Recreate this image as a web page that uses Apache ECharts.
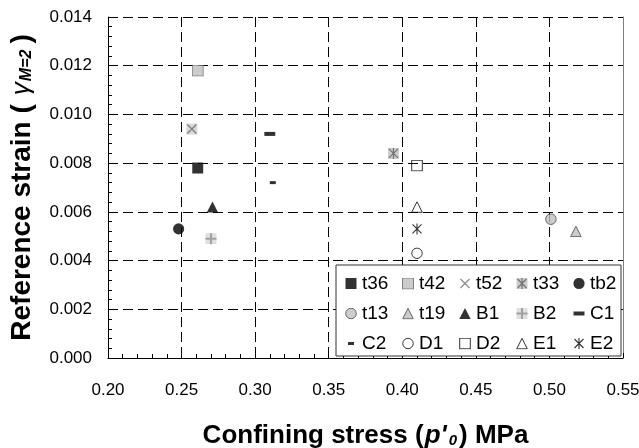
<!DOCTYPE html>
<html>
<head>
<meta charset="utf-8">
<script src="https://cdn.jsdelivr.net/npm/echarts@6/dist/echarts.min.js"></script>
<style>html,body{margin:0;padding:0;background:#fff;}#c{width:639px;height:448px;}</style>
</head>
<body>
<div id="c"></div>
<script>
// ---- data ----
const seriesNames = ['t36','t42','t52','t33','tb2','t13','t19','B1','B2','C1','C2','D1','D2','E1','E2'];
const stressValues = [0.261, 0.261, 0.257, 0.394, 0.248, 0.501, 0.518, 0.271, 0.270, 0.310, 0.312, 0.410, 0.410, 0.410, 0.410];
const strainValues = [0.0078, 0.0118, 0.0094, 0.0084, 0.0053, 0.0057, 0.0052, 0.0062, 0.0049, 0.0092, 0.0072, 0.0043, 0.0079, 0.0062, 0.0053];
const xTickLabels = ['0.20','0.25','0.30','0.35','0.40','0.45','0.50','0.55'];
const yTickLabels = ['0.000','0.002','0.004','0.006','0.008','0.010','0.012','0.014'];

// ---- marker glyphs (12x12 svg) ----
const G = '#c0c0c0';
const svgs = {
  t36: '<rect x="0.5" y="0.5" width="11" height="11" fill="#000"/>',
  t42: '<rect x="0.5" y="0.5" width="11" height="11" fill="'+G+'" stroke="#606060" stroke-width="1"/>',
  t52: '<rect x="0.5" y="0.5" width="11" height="11" fill="#d0d0d0"/><path d="M1.5 1.5L10.5 10.5M10.5 1.5L1.5 10.5" stroke="#606060" stroke-width="1.3" fill="none"/>',
  t52L: '<path d="M1.5 1.5L10.5 10.5M10.5 1.5L1.5 10.5" stroke="#707070" stroke-width="1.3" fill="none"/>',
  t33: '<rect x="0.5" y="0.5" width="11" height="11" fill="'+G+'"/><path d="M1.5 1.5L10.5 10.5M10.5 1.5L1.5 10.5M6 0.5L6 11.5" stroke="#505050" stroke-width="1.2" fill="none"/>',
  tb2: '<circle cx="6" cy="6" r="5.6" fill="#000"/>',
  t13: '<circle cx="6" cy="6" r="5.3" fill="'+G+'" stroke="#404040" stroke-width="1"/>',
  t19: '<polygon points="6,0.8 11.3,11.3 0.7,11.3" fill="'+G+'" stroke="#404040" stroke-width="1"/>',
  B1: '<polygon points="6,0.5 11.7,11.5 0.3,11.5" fill="#000"/>',
  B2: '<rect x="0.5" y="0.5" width="11" height="11" fill="#d8d8d8"/><path d="M6 0.5L6 11.5M0.5 6L11.5 6" stroke="#8a8a8a" stroke-width="2" fill="none"/>',
  C1: '<rect x="0.5" y="4" width="11" height="4" fill="#000"/>',
  C2: '<rect x="3" y="4.5" width="6" height="3" fill="#000"/>',
  D1: '<circle cx="6" cy="6" r="5.2" fill="none" stroke="#000" stroke-width="1"/>',
  D2: '<rect x="0.7" y="0.7" width="10.6" height="10.6" fill="none" stroke="#000" stroke-width="1"/>',
  E1: '<polygon points="6,0.8 11.3,11.3 0.7,11.3" fill="none" stroke="#000" stroke-width="1"/>',
  E2: '<path d="M1.5 1.5L10.5 10.5M10.5 1.5L1.5 10.5M6 0.5L6 11.5" stroke="#000" stroke-width="1.1" fill="none"/>'
};
function img(key){
  const s = '<svg xmlns="http://www.w3.org/2000/svg" width="12" height="12" viewBox="0 0 12 12">' + svgs[key] + '</svg>';
  return 'image://data:image/svg+xml;charset=utf-8,' + encodeURIComponent(s);
}

const FF = 'Liberation Sans, Arial, sans-serif';

const series = seriesNames.map(function(n, i){
  return {
    name: n,
    type: 'scatter',
    symbol: img(n),
    symbolSize: 12,
    data: [[stressValues[i], strainValues[i]]],
    z: 3
  };
});

const legendData = seriesNames.map(function(n){
  return { name: n, icon: img(n === 't52' ? 't52L' : n) };
});

const chart = echarts.init(document.getElementById('c'), null, {renderer: 'canvas'});
chart.setOption({
  animation: false,
  backgroundColor: '#fff',
  grid: { left: 108, top: 17, right: 16, bottom: 90, containLabel: false, outerBoundsMode: 'none' },
  legend: {
    data: legendData,
    left: 336, top: 265,
    width: 290,
    orient: 'horizontal',
    itemWidth: 12, itemHeight: 12,
    itemGap: 11,
    padding: [9, 2, 3, 9],
    backgroundColor: '#fff',
    borderColor: '#333',
    borderWidth: 1,
    borderRadius: 0,
    selectedMode: false,
    textStyle: { fontFamily: FF, fontSize: 19, color: '#000', width: 29, lineHeight: 16, overflow: 'none' }
  },
  xAxis: {
    type: 'value', min: 0.2, max: 0.55, interval: 0.05,
    axisLine: { show: true, onZero: false, lineStyle: { color: '#000', width: 1 } },
    axisTick: { show: true, inside: true, length: 5, lineStyle: { color: '#000' } },
    minorTick: { show: true, splitNumber: 5, length: 4, lineStyle: { color: '#000' } },
    splitLine: { show: true, lineStyle: { color: '#000', type: [10, 5], width: 1 } },
    axisLabel: {
      margin: 24, fontFamily: FF, fontSize: 17, color: '#000',
      formatter: function(v){ const i = Math.round((v - 0.2) / 0.05); return xTickLabels[i]; }
    },
    name: "{b|Confining stress (}{i|p'}{s|0}{b|) MPa}",
    nameLocation: 'middle', nameGap: 65,
    nameTextStyle: {
      rich: {
        b: { fontFamily: FF, fontSize: 26, fontWeight: 'bold', color: '#000' },
        i: { fontFamily: FF, fontSize: 26, fontWeight: 'bold', fontStyle: 'italic', color: '#000', padding: [0, 2, 0, 1] },
        s: { fontFamily: FF, fontSize: 15, fontWeight: 'bold', fontStyle: 'italic', color: '#000', padding: [10, 2, 0, 0] }
      }
    }
  },
  yAxis: [{
    type: 'value', min: 0, max: 0.014, interval: 0.002,
    axisLine: { show: true, onZero: false, lineStyle: { color: '#000', width: 1 } },
    axisTick: { show: true, inside: true, length: 5, lineStyle: { color: '#000' } },
    minorTick: { show: true, splitNumber: 5, length: 4, lineStyle: { color: '#000' } },
    splitLine: { show: true, lineStyle: { color: '#000', type: [10, 5], width: 1 } },
    axisLabel: {
      margin: 16, fontFamily: FF, fontSize: 17, color: '#000',
      formatter: function(v){ const i = Math.round(v / 0.002); return yTickLabels[i]; }
    },
    name: '{b|Reference strain (}{g|γ}{s|M=2}{b|)}',
    nameLocation: 'middle', nameGap: 72,
    nameTextStyle: {
      rich: {
        b: { fontFamily: FF, fontSize: 28, fontWeight: 'bold', color: '#000' },
        g: { fontFamily: FF, fontSize: 26, fontStyle: 'italic', color: '#000', padding: [0, 1, 0, 9] },
        s: { fontFamily: FF, fontSize: 16, fontWeight: 'bold', fontStyle: 'italic', color: '#000', padding: [10, 6, 0, 0] }
      }
    }
  }, {
    type: 'value', min: 0, max: 0.014, interval: 0.002, position: 'right',
    axisLine: { show: true, onZero: false, lineStyle: { color: '#808080', width: 1 } },
    axisTick: { show: false }, axisLabel: { show: false }, splitLine: { show: false }
  }],
  series: series
});
</script>
</body>
</html>
